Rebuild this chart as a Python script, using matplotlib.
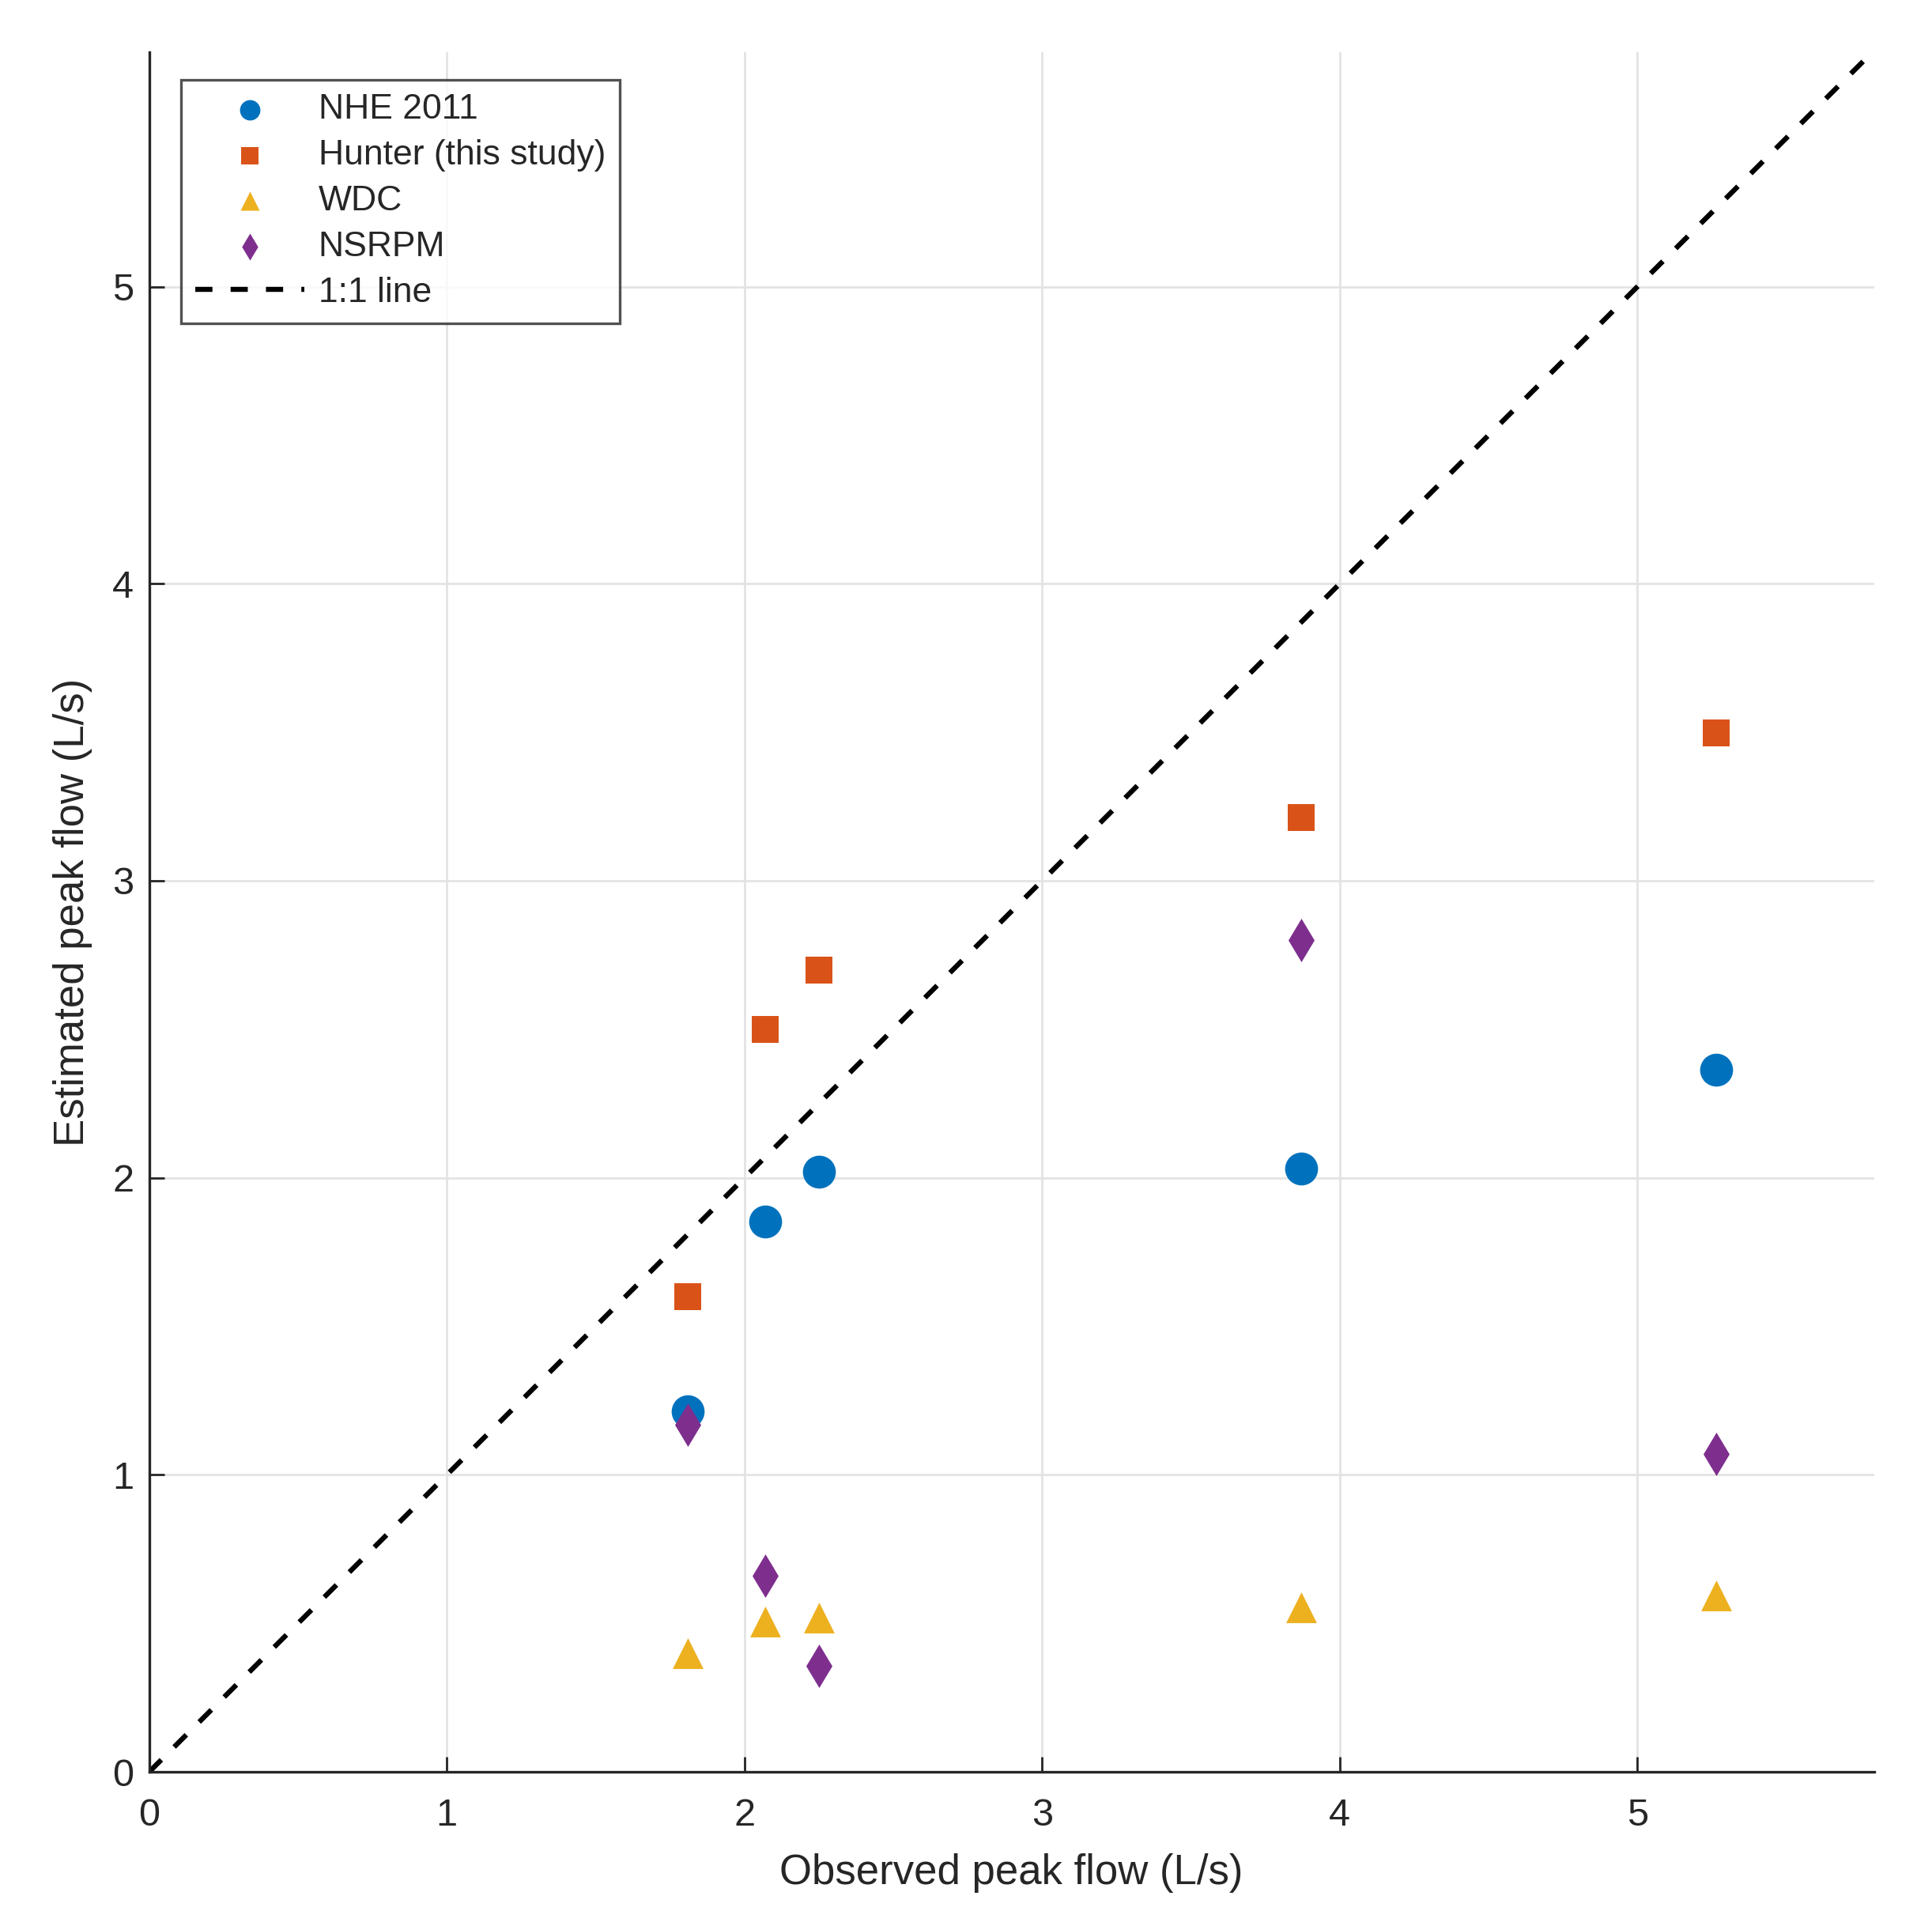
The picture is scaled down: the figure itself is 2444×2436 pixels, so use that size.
import matplotlib
matplotlib.use("Agg")
import matplotlib.pyplot as plt
import numpy as np

plt.rcParams['font.family'] = ['Liberation Sans', 'DejaVu Sans']

# Data
observed = [1.81, 2.07, 2.25, 3.87, 5.265]
nhe_2011 = [1.215, 1.853, 2.02, 2.03, 2.363]
hunter = [1.60, 2.50, 2.70, 3.213, 3.499]
wdc = [0.40, 0.505, 0.52, 0.555, 0.595]
nsrpm = [1.17, 0.66, 0.357, 2.80, 1.07]
one_to_one = [0, 5.8]

series_names = ["NHE 2011", "Hunter (this study)", "WDC", "NSRPM"]
x_ticks = [0, 1, 2, 3, 4, 5]
y_ticks = [0, 1, 2, 3, 4, 5]

colors = ["#0072BD", "#D95319", "#EDB120", "#7E2F8E"]
txt = "#262626"

fig = plt.figure(figsize=(12.22, 12.18), dpi=200)
ax = fig.add_axes([0.0772, 0.080, 0.8928, 0.893])

ax.scatter(observed, nhe_2011, s=15**2, marker='o', color=colors[0], label=series_names[0], zorder=3, linewidths=0)
ax.scatter(observed, hunter, s=12.5**2, marker='s', color=colors[1], label=series_names[1], zorder=3, linewidths=0)
ax.scatter(observed, wdc, s=14**2, marker='^', color=colors[2], label=series_names[2], zorder=3, linewidths=0)
ax.scatter(observed, nsrpm, s=14**2, marker='d', color=colors[3], label=series_names[3], zorder=3, linewidths=0)
ax.plot(one_to_one, one_to_one, color='black', lw=2.3, ls=(0, (3.4, 3.6)), label="1:1 line", zorder=2)

ax.set_xlim(0, 5.795)
ax.set_ylim(0, 5.79)
ax.set_xticks(x_ticks)
ax.set_yticks(y_ticks)
ax.grid(True, color='#e3e3e3', lw=1.0, zorder=0)
ax.set_axisbelow(True)
for s in ['top', 'right']:
    ax.spines[s].set_visible(False)
for s in ['left', 'bottom']:
    ax.spines[s].set_color(txt)
    ax.spines[s].set_linewidth(1.2)
ax.tick_params(direction='in', length=7, width=1.0, colors=txt, labelsize=17.5)
ax.tick_params(axis='x', pad=12)
ax.tick_params(axis='y', pad=7)

ax.set_xlabel("Observed peak flow (L/s)", fontsize=19, color=txt, labelpad=9)
ax.set_ylabel("Estimated peak flow (L/s)", fontsize=19, color=txt, labelpad=9)

leg = ax.legend(loc='upper left', bbox_to_anchor=(0.0186, 0.984), borderaxespad=0,
                fontsize=16, frameon=True, fancybox=False, edgecolor=txt,
                handlelength=3.1, handletextpad=0.4, labelspacing=0.38,
                markerscale=0.62, borderpad=0.4)
leg.get_frame().set_linewidth(1.2)
for t in leg.get_texts():
    t.set_color(txt)

fig.savefig("out.png", dpi=200, facecolor='white')
